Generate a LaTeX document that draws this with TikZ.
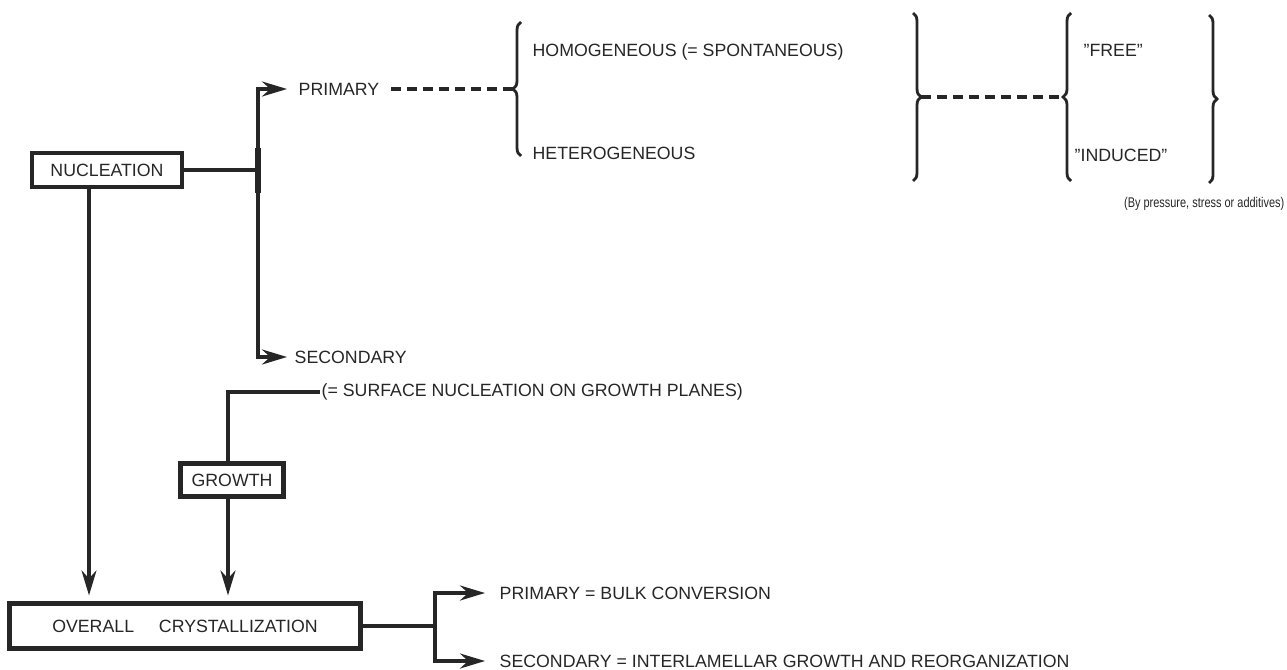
\documentclass[tikz,border=0pt]{standalone}
\usepackage{fontspec}
\setmainfont{Liberation Sans}
\usetikzlibrary{arrows.meta,decorations.pathreplacing}

\begin{document}
\begin{tikzpicture}[x=0.02cm,y=-0.02cm,
  font=\fontsize{10.1}{12}\selectfont,
  color=black!85,
  >={Stealth[length=0.5cm,width=0.3cm]},
  line width=1.9pt,
  box/.style={draw,line width=2.4pt,inner sep=0pt,align=center},
  lbl/.style={anchor=west,inner sep=0pt},
  br/.style={decorate,decoration={brace,amplitude=0.16cm},line width=1.6pt},
  dsh/.style={dash pattern=on 0.2cm off 0.12cm,line width=2.2pt}]
\useasboundingbox (0,0) rectangle (1287,669);

% boxes
\node[box,minimum width=3cm,minimum height=0.68cm] (nucl) at (107,170) {NUCLEATION};
\node[box,minimum width=2.06cm,minimum height=0.66cm] (grow) at (232,480) {GROWTH};
\node[box,minimum width=7.02cm,minimum height=0.9cm] (over) at (185,626) {OVERALL\hspace{1.4em}CRYSTALLIZATION};

% texts
\node[lbl] (prim) at (297,89) {PRIMARY};
\node[lbl] (homo) at (531,52) {HOMOGENEOUS (= SPONTANEOUS)};
\node[lbl] (hetero) at (531,153) {HETEROGENEOUS};
\node[lbl] (free) at (1082,50) {"FREE"};
\node[lbl] (induced) at (1073,155) {"INDUCED"};
\node[anchor=east,inner sep=0pt,font=\fontsize{8}{9}\selectfont] (bypress) at (1286,204) {\scalebox{0.78}[1]{(By pressure, stress or additives)}};
\node[lbl] (sec) at (293,357) {SECONDARY};
\node[lbl] (surf) at (320,392) {(= SURFACE NUCLEATION ON GROWTH PLANES)};
\node[lbl] (bulk) at (498,593) {PRIMARY = BULK CONVERSION};
\node[lbl] (inter) at (498,661) {SECONDARY = INTERLAMELLAR GROWTH AND REORGANIZATION};

% braces
\draw[br] (521,156) -- (521,22);
\draw[br] (913,13) -- (913,181);
\draw[br] (1071,181) -- (1071,13);
\draw[br] (1209,15) -- (1209,183);
\coordinate (t1) at (513,89);
\coordinate (t2) at (921,97);
\coordinate (t3) at (1063,97);

% nucleation branch
\coordinate (j1) at (258,170);
\draw (nucl.east) -- (j1);
\draw[line width=3.5pt] (258,148) -- (258,193);
\draw[->,shorten >=0.2cm] (j1) |- (prim);
\draw[->,shorten >=0.12cm] (j1) |- (sec);
\draw[dsh,shorten <=0.2cm] (prim) -- (t1);
\draw[dsh] (t2) -- (t3);

% down to overall
\coordinate (nx) at (89,0);
\coordinate (gx) at (228,0);
\draw[->,shorten >=0.12cm] (nucl.south -| nx) -- (over.north -| nx);
\draw (grow.north -| gx) |- (surf.west);
\draw[->,shorten >=0.12cm] (grow.south -| gx) -- (over.north -| gx);

% overall branch
\coordinate (j2) at (435,626);
\draw (over.east) -- (j2);
\draw[->,shorten >=0.26cm] (j2) |- (bulk);
\draw[->,shorten >=0.26cm] (j2) |- (inter);
\end{tikzpicture}
\end{document}
